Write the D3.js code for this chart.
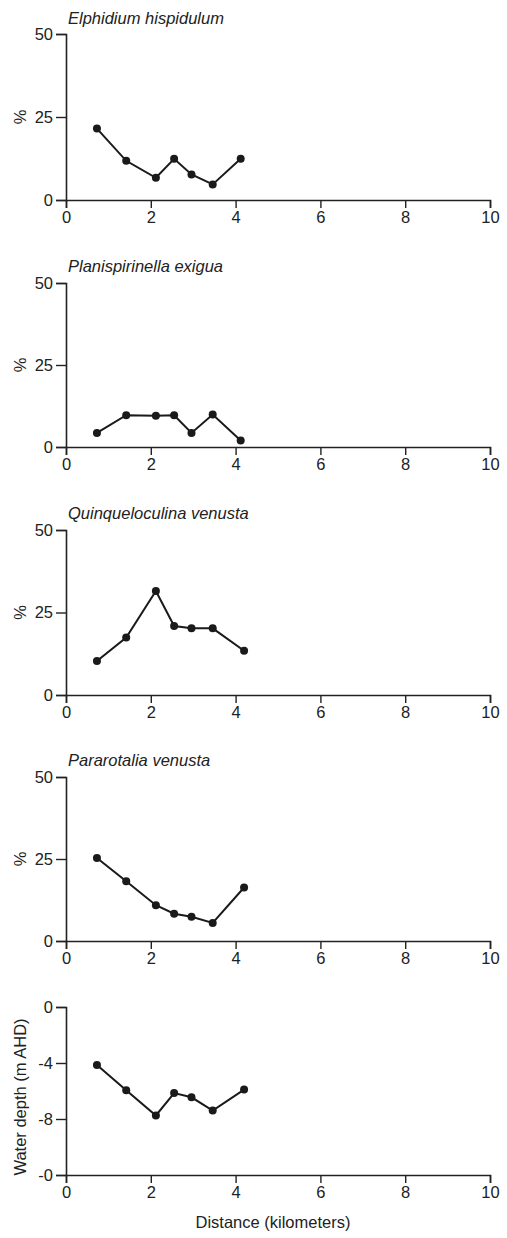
<!DOCTYPE html>
<html><head><meta charset="utf-8">
<script src="https://cdn.jsdelivr.net/npm/d3@7"></script>
<style>
body{margin:0;background:#fff;}
text{font-family:"Liberation Sans Narrow","Arial Narrow","Liberation Sans",Arial,sans-serif;fill:#222;}
</style></head><body>
<svg id="c" width="507" height="1238"></svg>
<script>
// Data
const distTicks = [0, 2, 4, 6, 8, 10];
const pctTicks = [0, 25, 50];
const depthTicks = [0, -4, -8, -12];
const depthTickLabels = ["0", "-4", "-8", "-0"];

const titles = ["Elphidium hispidulum", "Planispirinella exigua", "Quinqueloculina venusta", "Pararotalia venusta"];

const dist1 = [0.73, 1.42, 2.12, 2.55, 2.96, 3.46, 4.12];
const dist2 = [0.73, 1.42, 2.12, 2.55, 2.96, 3.46, 4.12];
const dist3 = [0.73, 1.42, 2.12, 2.55, 2.96, 3.46, 4.20];
const dist4 = [0.73, 1.42, 2.12, 2.55, 2.96, 3.46, 4.20];
const distDepth = [0.73, 1.42, 2.12, 2.55, 2.96, 3.46, 4.20];

const elphidium = [21.5, 11.8, 6.7, 12.4, 7.7, 4.7, 12.4];
const planispirinella = [4.3, 9.7, 9.5, 9.7, 4.3, 9.9, 2.0];
const quinqueloculina = [10.3, 17.4, 31.5, 20.9, 20.2, 20.2, 13.4];
const pararotalia = [25.3, 18.2, 10.9, 8.3, 7.4, 5.5, 16.3];
const waterDepth = [-4.15, -5.95, -7.75, -6.15, -6.45, -7.4, -5.9];

const FS = "16.5px";
const svg = d3.select("#c");
const x = d3.scaleLinear().domain([0, 10]).range([66, 490]);

const panels = [
  {title: titles[0], xs: dist1, ys: elphidium, top: 34, bottom: 200, titleY: 24},
  {title: titles[1], xs: dist2, ys: planispirinella, top: 283, bottom: 447, titleY: 272},
  {title: titles[2], xs: dist3, ys: quinqueloculina, top: 530, bottom: 695, titleY: 519},
  {title: titles[3], xs: dist4, ys: pararotalia, top: 777, bottom: 941, titleY: 766},
];

function styleAxis(ax) {
  ax.select(".domain").attr("stroke", "#222").attr("stroke-width", 1.6);
  ax.selectAll(".tick line").attr("stroke", "#222").attr("stroke-width", 1.4);
  ax.selectAll("text").style("font-size", FS).attr("fill", "#222");
}
function drawXAxis(g, y0) {
  const ax = g.append("g").attr("transform", `translate(0,${y0})`)
    .call(d3.axisBottom(x).tickValues(distTicks).tickSize(8).tickPadding(3).tickFormat(d3.format("d")));
  styleAxis(ax);
}
function drawSeries(g, xs, ys, y) {
  const pts = xs.map((d, i) => [d, ys[i]]);
  g.append("path").datum(pts)
    .attr("fill", "none").attr("stroke", "#1a1a1a").attr("stroke-width", 2)
    .attr("d", d3.line().x(d => x(d[0])).y(d => y(d[1])));
  g.selectAll("circle.pt").data(pts).enter().append("circle")
    .attr("cx", d => x(d[0])).attr("cy", d => y(d[1])).attr("r", 4).attr("fill", "#1a1a1a");
}
function yLabel(g, cx, cy, txt) {
  g.append("text")
    .attr("transform", `translate(${cx},${cy}) rotate(-90)`)
    .attr("text-anchor", "middle").style("font-size", FS).text(txt);
}

panels.forEach(p => {
  const g = svg.append("g");
  const y = d3.scaleLinear().domain([0, 50]).range([p.bottom, p.top]);
  const ay = g.append("g").attr("transform", `translate(${x(0)},0)`)
    .call(d3.axisLeft(y).tickValues(pctTicks).tickSize(10).tickPadding(3).tickFormat(d3.format("d")));
  styleAxis(ay);
  drawXAxis(g, p.bottom);
  g.append("text").attr("x", 68).attr("y", p.titleY)
    .style("font-size", FS).style("font-style", "italic").text(p.title);
  yLabel(g, 26, (p.top + p.bottom) / 2, "%");
  drawSeries(g, p.xs, p.ys, y);
});

// Depth panel
{
  const top = 1007, bottom = 1175;
  const g = svg.append("g");
  const y = d3.scaleLinear().domain([0, -12]).range([top, bottom]);
  const ay = g.append("g").attr("transform", `translate(${x(0)},0)`)
    .call(d3.axisLeft(y).tickValues(depthTicks).tickSize(10).tickPadding(3)
      .tickFormat((d, i) => depthTickLabels[i]));
  styleAxis(ay);
  drawXAxis(g, bottom);
  yLabel(g, 26, 1097, "Water depth (m AHD)");
  g.append("text").attr("x", 273).attr("y", 1228).attr("text-anchor", "middle")
    .style("font-size", FS).text("Distance (kilometers)");
  drawSeries(g, distDepth, waterDepth, y);
}
</script>
</body></html>
